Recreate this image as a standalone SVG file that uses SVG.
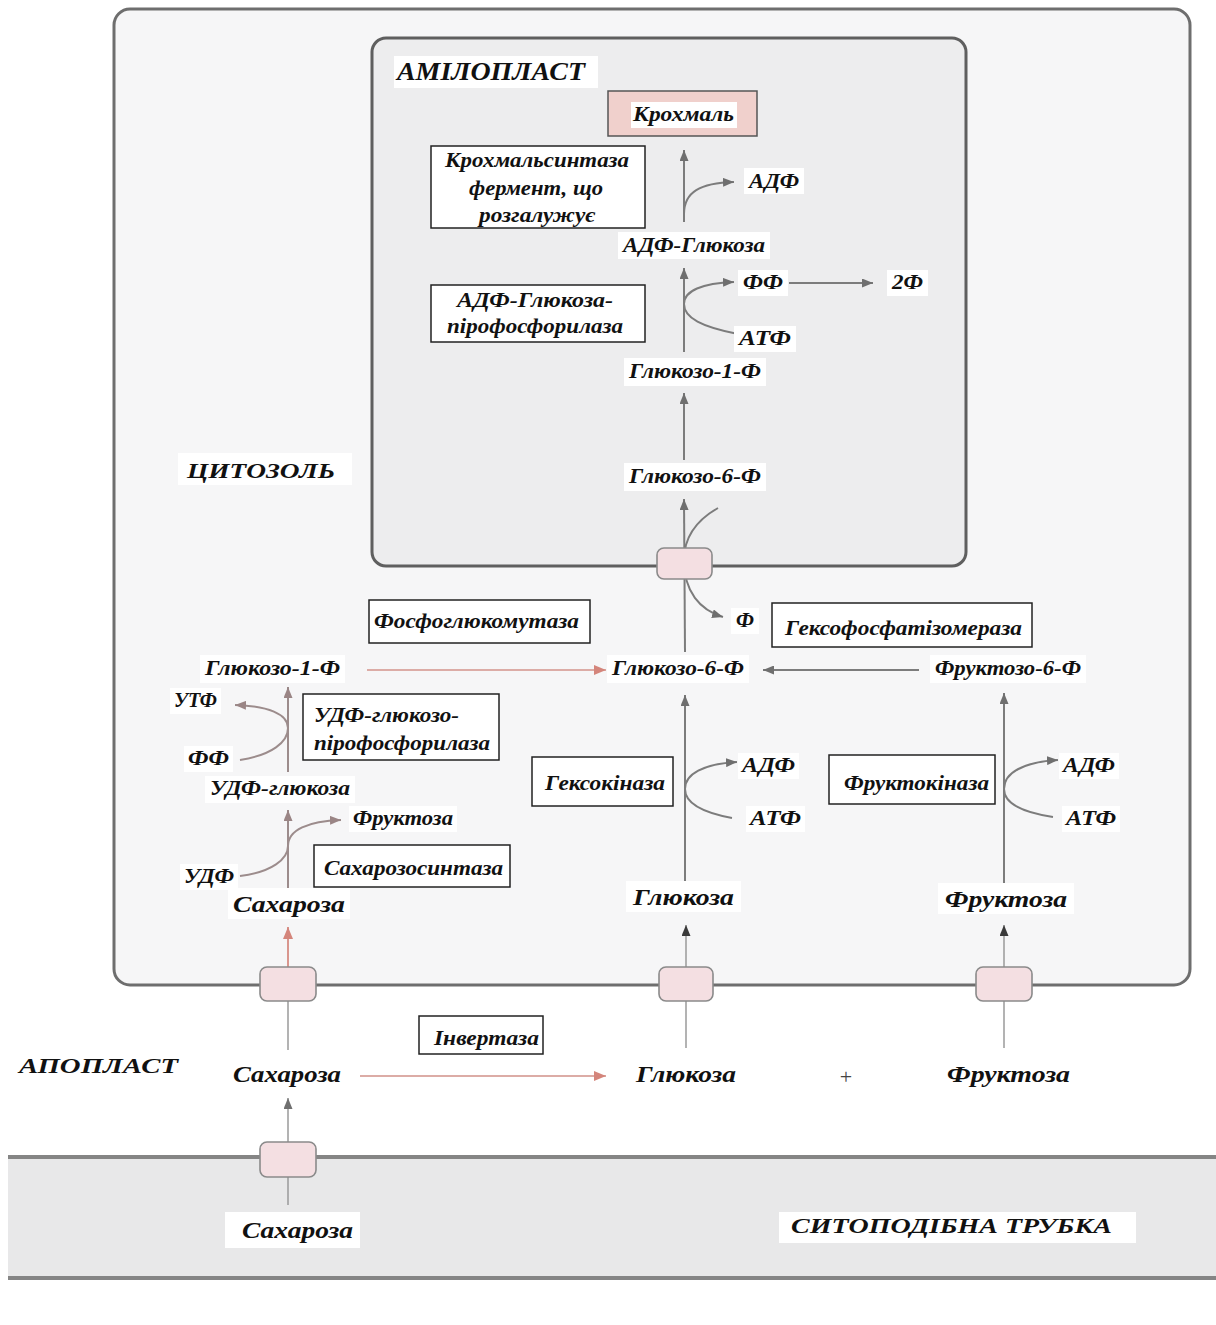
<svg xmlns="http://www.w3.org/2000/svg" width="1216" height="1325" viewBox="0 0 1216 1325">
  <defs>
    <style>
      .t { font-family: "Liberation Serif", "DejaVu Serif", serif; font-weight: bold; font-style: italic; fill: #111; }
      .s20 { font-size: 20px; }
      .s22 { font-size: 22px; }
      .s23 { font-size: 23px; }
      .s25 { font-size: 25px; }
      .bg { fill: #ffffff; }
      .enz { fill: #ffffff; stroke: #222; stroke-width: 1.5; }
      .tr { fill: #f4dfe2; stroke: #8a8a8a; stroke-width: 1.6; }
      .g { fill: none; stroke: #7c7c7c; stroke-width: 2; }
      .gl { fill: none; stroke: #9a9a9a; stroke-width: 1.5; }
      .bn { fill: none; stroke: #9c8c8c; stroke-width: 2; }
      .p { fill: none; stroke: #dcaca6; stroke-width: 2; }
      .r { fill: none; stroke: #d9968e; stroke-width: 2; }
    </style>
    <marker id="ah-gray" markerUnits="userSpaceOnUse" markerWidth="11" markerHeight="9" refX="11" refY="4.5" orient="auto">
      <path d="M0,0 L11,4.5 L0,9 z" fill="#6f6f6f"/>
    </marker>
    <marker id="ah-brown" markerUnits="userSpaceOnUse" markerWidth="11" markerHeight="9" refX="11" refY="4.5" orient="auto">
      <path d="M0,0 L11,4.5 L0,9 z" fill="#9a8585"/>
    </marker>
    <marker id="ah-pink" markerUnits="userSpaceOnUse" markerWidth="12" markerHeight="10" refX="12" refY="5" orient="auto">
      <path d="M0,0 L12,5 L0,10 z" fill="#d4857b"/>
    </marker>
    <marker id="ah-dark" markerUnits="userSpaceOnUse" markerWidth="11" markerHeight="9" refX="11" refY="4.5" orient="auto">
      <path d="M0,0 L11,4.5 L0,9 z" fill="#3a3a3a"/>
    </marker>
  </defs>

  <rect width="1216" height="1325" fill="#ffffff"/>

  <!-- compartments -->
  <g id="cytosol">
    <rect x="114" y="9" width="1076" height="976" rx="16" fill="#f6f6f7" stroke="#6e6e6e" stroke-width="3"/>
  </g>
  <g id="amyloplast">
    <rect x="372" y="38" width="594" height="528" rx="14" fill="#ededee" stroke="#5f5f5f" stroke-width="3"/>
  </g>
  <g id="sieve-tube">
    <rect x="8" y="1157" width="1208" height="121" fill="#e8e8e9"/>
    <line x1="8" y1="1157" x2="1216" y2="1157" stroke="#858585" stroke-width="4"/>
    <line x1="8" y1="1278" x2="1216" y2="1278" stroke="#858585" stroke-width="4"/>
  </g>

  <!-- connectors -->
  <g id="connectors">
    <!-- amyloplast pathway -->
    <line class="g" x1="684" y1="222" x2="684" y2="150" marker-end="url(#ah-gray)"/>
    <path class="g" d="M684,214 C684,192 700,183 734,182" marker-end="url(#ah-gray)"/>
    <line class="g" x1="684" y1="352" x2="684" y2="268" marker-end="url(#ah-gray)"/>
    <path class="g" d="M738,334 C702,327 684,318 684,304 C684,291 702,283 734,282" marker-end="url(#ah-gray)"/>
    <line class="g" x1="789" y1="283" x2="873" y2="283" marker-end="url(#ah-gray)"/>
    <line class="g" x1="684" y1="460" x2="684" y2="393" marker-end="url(#ah-gray)"/>
    <line class="g" x1="685" y1="652" x2="684" y2="499" marker-end="url(#ah-gray)"/>
    <path class="g" d="M718,508 C697,520 684,536 684,560 C684,592 700,610 723,617" marker-end="url(#ah-gray)"/>

    <!-- cytosol hexose phosphates -->
    <line class="p" x1="367" y1="670" x2="606" y2="670" marker-end="url(#ah-pink)"/>
    <line class="g" x1="919" y1="670" x2="763" y2="670" marker-end="url(#ah-gray)"/>
    <line class="g" x1="685" y1="883" x2="685" y2="695" marker-end="url(#ah-gray)"/>
    <path class="g" d="M732,818 C700,812 685,802 685,789 C685,774 703,764 737,762" marker-end="url(#ah-gray)"/>
    <line class="g" x1="1004" y1="883" x2="1004" y2="693" marker-end="url(#ah-gray)"/>
    <path class="g" d="M1053,817 C1020,812 1004,802 1004,789 C1004,773 1023,762 1058,760" marker-end="url(#ah-gray)"/>

    <!-- sucrose synthase branch -->
    <line class="bn" x1="288" y1="772" x2="288" y2="687" marker-end="url(#ah-brown)"/>
    <path class="bn" d="M240,760 C272,755 288,742 288,728 C288,714 268,706 235,705" marker-end="url(#ah-brown)"/>
    <line class="bn" x1="288" y1="890" x2="288" y2="810" marker-end="url(#ah-brown)"/>
    <path class="bn" d="M240,876 C272,872 288,859 288,846 C288,830 308,821 341,820" marker-end="url(#ah-brown)"/>

    <!-- uptake from the apoplast -->
    <line class="gl" x1="288" y1="1050" x2="288" y2="1000"/>
    <line class="r" x1="288" y1="968" x2="288" y2="927" marker-end="url(#ah-pink)"/>
    <line class="gl" x1="686" y1="1048" x2="686" y2="925" marker-end="url(#ah-dark)"/>
    <line class="gl" x1="1004" y1="1048" x2="1004" y2="925" marker-end="url(#ah-dark)"/>
    <line class="p" x1="360" y1="1076" x2="606" y2="1076" marker-end="url(#ah-pink)"/>
    <line class="gl" x1="288" y1="1205" x2="288" y2="1098" marker-end="url(#ah-gray)"/>
  </g>

  <!-- membrane transporters -->
  <g id="transporters">
    <rect id="tr-amyloplast" class="tr" x="657" y="548" width="55" height="31" rx="7"/>
    <rect id="tr-sucrose" class="tr" x="260" y="967" width="56" height="34" rx="7"/>
    <rect id="tr-glucose" class="tr" x="659" y="967" width="54" height="34" rx="7"/>
    <rect id="tr-fructose" class="tr" x="976" y="967" width="56" height="34" rx="7"/>
    <rect id="tr-sieve" class="tr" x="260" y="1142" width="56" height="35" rx="7"/>
  </g>

  <!-- compartment labels -->
  <g id="label-amyloplast">
    <rect class="bg" x="394" y="56" width="204" height="32"/>
    <text class="t s25" x="397" y="80" textLength="188" lengthAdjust="spacingAndGlyphs">АМІЛОПЛАСТ</text>
  </g>
  <g id="label-cytosol">
    <rect class="bg" x="178" y="453" width="174" height="32"/>
    <text class="t s22" x="187" y="478" textLength="148" lengthAdjust="spacingAndGlyphs">ЦИТОЗОЛЬ</text>
  </g>
  <g id="label-apoplast">
    <text class="t s22" x="19" y="1073" textLength="159" lengthAdjust="spacingAndGlyphs">АПОПЛАСТ</text>
  </g>
  <g id="label-sieve">
    <rect class="bg" x="779" y="1212" width="357" height="31"/>
    <text class="t s22" x="791" y="1233" textLength="321" lengthAdjust="spacingAndGlyphs">СИТОПОДІБНА ТРУБКА</text>
  </g>

  <!-- amyloplast metabolites -->
  <g id="n-starch">
    <rect x="608" y="91" width="149" height="45" fill="#f0d0cc" stroke="#555" stroke-width="1.5"/>
    <rect class="bg" x="631" y="102" width="106" height="26"/>
    <text class="t s20" x="633" y="121" textLength="101" lengthAdjust="spacingAndGlyphs">Крохмаль</text>
  </g>
  <g id="n-adp-1">
    <rect class="bg" x="744" y="168" width="60" height="26"/>
    <text class="t s20" x="749" y="188" textLength="50" lengthAdjust="spacingAndGlyphs">АДФ</text>
  </g>
  <g id="n-adp-glucose">
    <rect class="bg" x="618" y="232" width="152" height="27"/>
    <text class="t s20" x="623" y="252" textLength="142" lengthAdjust="spacingAndGlyphs">АДФ-Глюкоза</text>
  </g>
  <g id="n-ppi-1">
    <rect class="bg" x="738" y="270" width="50" height="26"/>
    <text class="t s20" x="743" y="289" textLength="40" lengthAdjust="spacingAndGlyphs">ФФ</text>
  </g>
  <g id="n-2pi">
    <rect class="bg" x="887" y="270" width="41" height="26"/>
    <text class="t s20" x="892" y="289" textLength="31" lengthAdjust="spacingAndGlyphs">2Ф</text>
  </g>
  <g id="n-atp-1">
    <rect class="bg" x="734" y="326" width="62" height="26"/>
    <text class="t s20" x="739" y="345" textLength="52" lengthAdjust="spacingAndGlyphs">АТФ</text>
  </g>
  <g id="n-g1p-amyloplast">
    <rect class="bg" x="624" y="358" width="142" height="28"/>
    <text class="t s20" x="629" y="378" textLength="132" lengthAdjust="spacingAndGlyphs">Глюкозо-1-Ф</text>
  </g>
  <g id="n-g6p-amyloplast">
    <rect class="bg" x="624" y="463" width="142" height="28"/>
    <text class="t s20" x="629" y="483" textLength="132" lengthAdjust="spacingAndGlyphs">Глюкозо-6-Ф</text>
  </g>
  <g id="n-pi">
    <rect class="bg" x="731" y="608" width="28" height="26"/>
    <text class="t s20" x="736" y="627" textLength="18" lengthAdjust="spacingAndGlyphs">Ф</text>
  </g>

  <!-- amyloplast enzymes -->
  <g id="e-starch-synthase">
    <rect class="enz" x="431" y="146" width="214" height="82"/>
    <text class="t s20" x="537" y="167" text-anchor="middle" textLength="184" lengthAdjust="spacingAndGlyphs">Крохмальсинтаза</text>
    <text class="t s20" x="536" y="195" text-anchor="middle" textLength="134" lengthAdjust="spacingAndGlyphs">фермент, що</text>
    <text class="t s20" x="537" y="222" text-anchor="middle" textLength="116" lengthAdjust="spacingAndGlyphs">розгалужує</text>
  </g>
  <g id="e-agpase">
    <rect class="enz" x="431" y="285" width="214" height="57"/>
    <text class="t s20" x="535" y="307" text-anchor="middle" textLength="156" lengthAdjust="spacingAndGlyphs">АДФ-Глюкоза-</text>
    <text class="t s20" x="535" y="333" text-anchor="middle" textLength="176" lengthAdjust="spacingAndGlyphs">пірофосфорилаза</text>
  </g>

  <!-- cytosol enzymes -->
  <g id="e-phosphoglucomutase">
    <rect class="enz" x="369" y="600" width="221" height="43"/>
    <text class="t s20" x="374" y="628" textLength="205" lengthAdjust="spacingAndGlyphs">Фосфоглюкомутаза</text>
  </g>
  <g id="e-isomerase">
    <rect class="enz" x="772" y="603" width="260" height="44"/>
    <text class="t s20" x="785" y="635" textLength="237" lengthAdjust="spacingAndGlyphs">Гексофосфатізомераза</text>
  </g>
  <g id="e-ugpase">
    <rect class="enz" x="303" y="694" width="196" height="66"/>
    <text class="t s20" x="314" y="722" textLength="145" lengthAdjust="spacingAndGlyphs">УДФ-глюкозо-</text>
    <text class="t s20" x="314" y="750" textLength="176" lengthAdjust="spacingAndGlyphs">пірофосфорилаза</text>
  </g>
  <g id="e-hexokinase">
    <rect class="enz" x="532" y="757" width="141" height="49"/>
    <text class="t s20" x="545" y="790" textLength="120" lengthAdjust="spacingAndGlyphs">Гексокіназа</text>
  </g>
  <g id="e-fructokinase">
    <rect class="enz" x="829" y="755" width="166" height="49"/>
    <text class="t s20" x="844" y="790" textLength="145" lengthAdjust="spacingAndGlyphs">Фруктокіназа</text>
  </g>
  <g id="e-sucrose-synthase">
    <rect class="enz" x="314" y="845" width="196" height="42"/>
    <text class="t s20" x="324" y="875" textLength="179" lengthAdjust="spacingAndGlyphs">Сахарозосинтаза</text>
  </g>
  <g id="e-invertase">
    <rect class="enz" x="419" y="1016" width="124" height="38"/>
    <text class="t s20" x="434" y="1045" textLength="105" lengthAdjust="spacingAndGlyphs">Інвертаза</text>
  </g>

  <!-- cytosol metabolites -->
  <g id="n-g1p-cytosol">
    <rect class="bg" x="200" y="655" width="145" height="28"/>
    <text class="t s20" x="205" y="675" textLength="135" lengthAdjust="spacingAndGlyphs">Глюкозо-1-Ф</text>
  </g>
  <g id="n-g6p-cytosol">
    <rect class="bg" x="607" y="655" width="142" height="28"/>
    <text class="t s20" x="612" y="675" textLength="132" lengthAdjust="spacingAndGlyphs">Глюкозо-6-Ф</text>
  </g>
  <g id="n-f6p">
    <rect class="bg" x="930" y="655" width="156" height="28"/>
    <text class="t s20" x="935" y="675" textLength="146" lengthAdjust="spacingAndGlyphs">Фруктозо-6-Ф</text>
  </g>
  <g id="n-utp">
    <rect class="bg" x="170" y="688" width="51" height="26"/>
    <text class="t s20" x="174" y="707" textLength="43" lengthAdjust="spacingAndGlyphs">УТФ</text>
  </g>
  <g id="n-ppi-2">
    <rect class="bg" x="184" y="746" width="49" height="26"/>
    <text class="t s20" x="188" y="765" textLength="41" lengthAdjust="spacingAndGlyphs">ФФ</text>
  </g>
  <g id="n-udp-glucose">
    <rect class="bg" x="205" y="776" width="150" height="27"/>
    <text class="t s20" x="210" y="795" textLength="140" lengthAdjust="spacingAndGlyphs">УДФ-глюкоза</text>
  </g>
  <g id="n-fructose-small">
    <rect class="bg" x="349" y="806" width="108" height="26"/>
    <text class="t s20" x="353" y="825" textLength="100" lengthAdjust="spacingAndGlyphs">Фруктоза</text>
  </g>
  <g id="n-udp">
    <rect class="bg" x="180" y="864" width="58" height="26"/>
    <text class="t s20" x="184" y="883" textLength="50" lengthAdjust="spacingAndGlyphs">УДФ</text>
  </g>
  <g id="n-sucrose-cytosol">
    <rect class="bg" x="228" y="888" width="122" height="31"/>
    <text class="t s23" x="233" y="912" textLength="112" lengthAdjust="spacingAndGlyphs">Сахароза</text>
  </g>
  <g id="n-adp-2">
    <rect class="bg" x="738" y="753" width="61" height="26"/>
    <text class="t s20" x="742" y="772" textLength="53" lengthAdjust="spacingAndGlyphs">АДФ</text>
  </g>
  <g id="n-atp-2">
    <rect class="bg" x="746" y="806" width="59" height="26"/>
    <text class="t s20" x="750" y="825" textLength="51" lengthAdjust="spacingAndGlyphs">АТФ</text>
  </g>
  <g id="n-adp-3">
    <rect class="bg" x="1059" y="753" width="60" height="26"/>
    <text class="t s20" x="1063" y="772" textLength="52" lengthAdjust="spacingAndGlyphs">АДФ</text>
  </g>
  <g id="n-atp-3">
    <rect class="bg" x="1062" y="806" width="58" height="26"/>
    <text class="t s20" x="1066" y="825" textLength="50" lengthAdjust="spacingAndGlyphs">АТФ</text>
  </g>
  <g id="n-glucose-cytosol">
    <rect class="bg" x="626" y="881" width="115" height="31"/>
    <text class="t s23" x="633" y="905" textLength="101" lengthAdjust="spacingAndGlyphs">Глюкоза</text>
  </g>
  <g id="n-fructose-cytosol">
    <rect class="bg" x="938" y="883" width="136" height="31"/>
    <text class="t s23" x="945" y="907" textLength="122" lengthAdjust="spacingAndGlyphs">Фруктоза</text>
  </g>

  <!-- apoplast metabolites -->
  <g id="n-sucrose-apoplast">
    <text class="t s23" x="233" y="1082" textLength="108" lengthAdjust="spacingAndGlyphs">Сахароза</text>
  </g>
  <g id="n-glucose-apoplast">
    <text class="t s23" x="636" y="1082" textLength="100" lengthAdjust="spacingAndGlyphs">Глюкоза</text>
  </g>
  <g id="n-plus">
    <text x="846" y="1084" text-anchor="middle" font-family="Liberation Serif, serif" font-size="22" fill="#444">+</text>
  </g>
  <g id="n-fructose-apoplast">
    <text class="t s23" x="947" y="1082" textLength="123" lengthAdjust="spacingAndGlyphs">Фруктоза</text>
  </g>

  <!-- sieve tube -->
  <g id="n-sucrose-sieve">
    <rect class="bg" x="225" y="1212" width="135" height="36"/>
    <text class="t s23" x="242" y="1238" textLength="111" lengthAdjust="spacingAndGlyphs">Сахароза</text>
  </g>
</svg>
